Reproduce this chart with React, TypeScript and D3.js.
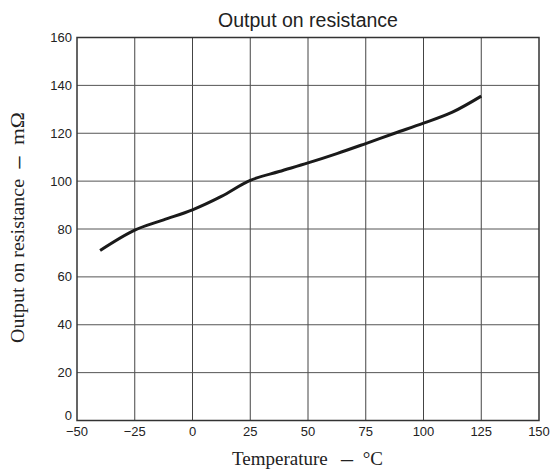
import React from "react";
import * as d3 from "d3";

// Temperature (°C) vs. output on-resistance (mΩ)
const temperatures = [-40, -25, -12.5, 0, 12.5, 25, 37.5, 50, 62.5, 75, 87.5, 100, 112.5, 125];
const resistance = [71, 79.5, 83.8, 88, 93.6, 100.3, 104, 107.6, 111.5, 115.7, 120, 124.2, 128.8, 135.5];
const xTicks = [-50, -25, 0, 25, 50, 75, 100, 125, 150];
const yTicks = [0, 20, 40, 60, 80, 100, 120, 140, 160];
const xTickLabels = ["\u221250", "\u221225", "0", "25", "50", "75", "100", "125", "150"];

const W = 554;
const H = 471;
const left = 77, right = 539, top = 37.5, bottom = 420.5;

export default function App() {
  const x = d3.scaleLinear().domain([-50, 150]).range([left, right]);
  const y = d3.scaleLinear().domain([0, 160]).range([bottom, top]);
  const line = d3
    .line<number>()
    .x((_, i) => x(temperatures[i]))
    .y((d) => y(d))
    .curve(d3.curveCatmullRom.alpha(0.5));

  const sans = "Liberation Sans, Arial, sans-serif";
  const serif = "Liberation Serif, Times New Roman, serif";

  return (
    <svg
      width={W}
      height={H}
      style={{ position: "absolute", left: 0, top: 0, background: "#fff" }}
    >
      <rect x={0} y={0} width={W} height={H} fill="#fff" />
      {xTicks.slice(1, -1).map((t) => (
        <line key={"vx" + t} x1={x(t)} x2={x(t)} y1={top} y2={bottom} stroke="#444" strokeWidth={1} />
      ))}
      {yTicks.slice(1, -1).map((t) => (
        <line key={"hy" + t} x1={left} x2={right} y1={y(t)} y2={y(t)} stroke="#555" strokeWidth={1} />
      ))}
      <rect x={left} y={top} width={right - left} height={bottom - top} fill="none" stroke="#333" strokeWidth={1.5} />
      <path d={line(resistance) || ""} fill="none" stroke="#1a1a1a" strokeWidth={3} strokeLinejoin="round" />
      {yTicks.map((t) => (
        <text
          key={"yl" + t}
          x={left - 5}
          y={t === 0 ? y(t) - 1 : y(t) + 4.5}
          textAnchor="end"
          fontFamily={sans}
          fontSize={13}
          fill="#222"
        >
          {t}
        </text>
      ))}
      {xTicks.map((t, i) => (
        <text key={"xl" + t} x={x(t)} y={436} textAnchor="middle" fontFamily={sans} fontSize={13} fill="#222">
          {xTickLabels[i]}
        </text>
      ))}
      <text x={308} y={27} textAnchor="middle" fontFamily={sans} fontSize={19.5} fill="#222">
        Output on resistance
      </text>

      {/* x-axis title */}
      <g fontFamily={serif} fontSize={19} fill="#222">
        <text x={232} y={465}>Temperature</text>
        <text x={341} y={465} fontWeight="bold" textLength={12} lengthAdjust="spacingAndGlyphs">{"\u2013"}</text>
        <text x={383} y={465} textAnchor="end">{"\u00b0C"}</text>
      </g>

      {/* y-axis title */}
      <g fontFamily={serif} fontSize={19} fill="#222">
        <text transform="translate(24, 343) rotate(-90)" textLength={164} lengthAdjust="spacingAndGlyphs">
          Output on resistance
        </text>
        <text transform="translate(24, 168.5) rotate(-90)" fontWeight="bold" textLength={12} lengthAdjust="spacingAndGlyphs">
          {"\u2013"}
        </text>
        <text transform="translate(24, 112) rotate(-90)" textAnchor="end" textLength={33} lengthAdjust="spacingAndGlyphs">
          {"m\u03a9"}
        </text>
      </g>
    </svg>
  );
}
